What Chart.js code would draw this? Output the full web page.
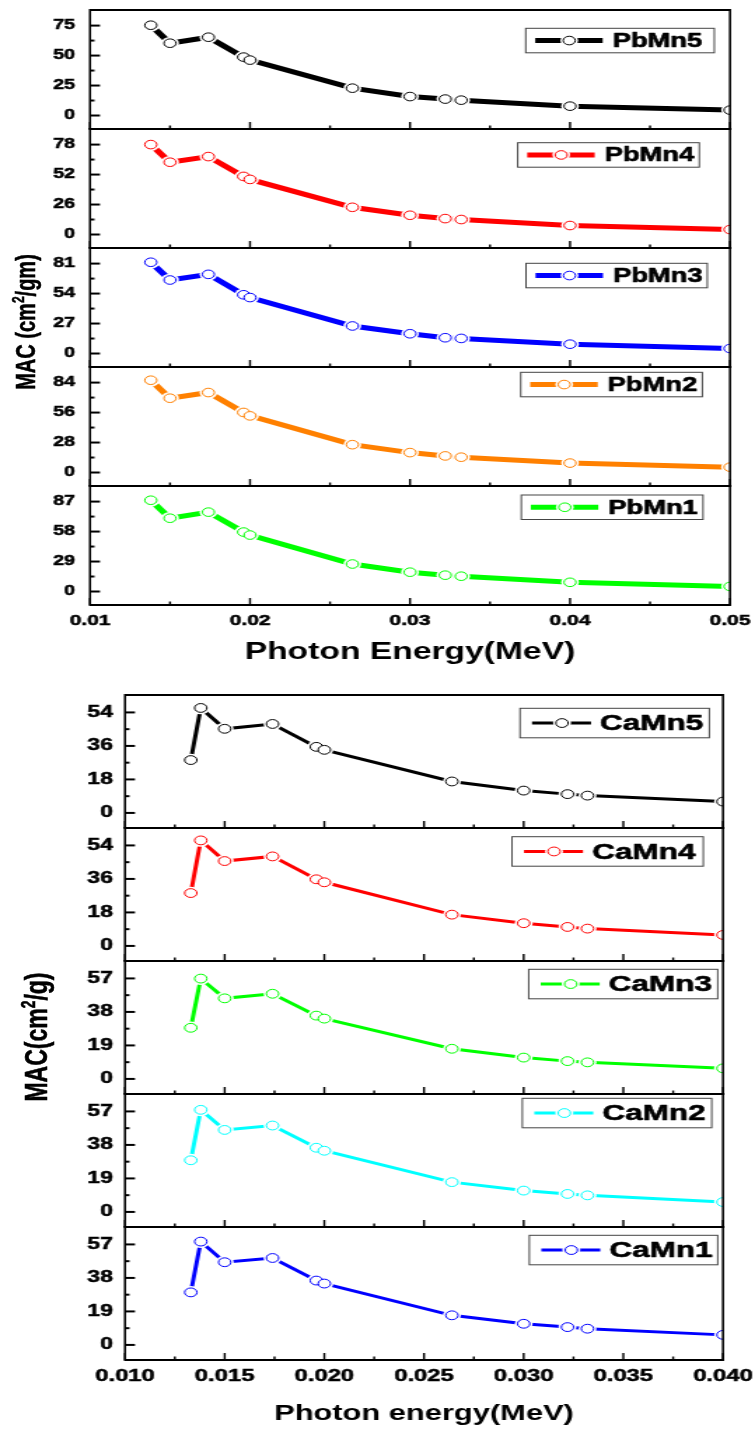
<!DOCTYPE html>
<html>
<head>
<meta charset="utf-8">
<script src="https://cdn.jsdelivr.net/npm/chart.js@4.4.1/dist/chart.umd.min.js"></script>
<style>
  html, body { margin: 0; padding: 0; background: #fff; overflow: hidden; }
  #fig { position: absolute; left: 0; top: 0; width: 539px; height: 1429px; transform-origin: 0 0; }
  .ytitle { position: absolute; white-space: nowrap; font-family: "Liberation Sans", Arial, sans-serif; font-weight: bold; color: #000; -webkit-text-stroke: 0.4px #000; transform: translate(-50%, -50%) rotate(-90deg); }
  .ytitle sup { font-size: 0.6em; }
</style>
</head>
<body>
<div id="fig">
  <div class="ytitle" id="yt1">MAC (cm<sup>2</sup>/gm)</div>
  <div class="ytitle" id="yt2">MAC(cm<sup>2</sup>/g)</div>
</div>
<script>
// ---- dados ----
const energiaPb = [0.0138, 0.015, 0.0174, 0.0196, 0.02, 0.0264, 0.03, 0.0322, 0.0332, 0.04, 0.05];
const pbMn5 = [75.3, 60.3, 65.3, 48.7, 46.2, 22.8, 15.8, 13.7, 12.8, 7.8, 4.5];
const pbMn4 = [78.0, 62.7, 67.6, 50.4, 47.8, 23.6, 16.7, 13.8, 13.0, 7.8, 4.3];
const pbMn3 = [82.2, 66.2, 71.3, 52.9, 50.4, 24.8, 17.8, 14.2, 13.6, 8.4, 4.5];
const pbMn2 = [86.2, 69.4, 74.7, 56.1, 52.9, 26.0, 18.6, 15.5, 14.3, 8.8, 5.0];
const pbMn1 = [88.3, 70.9, 76.8, 57.5, 54.6, 26.6, 18.7, 15.8, 14.8, 8.9, 4.9];
const nomesPb = ['PbMn5', 'PbMn4', 'PbMn3', 'PbMn2', 'PbMn1'];
const coresPb = ['#000000', '#ff0000', '#0000ff', '#ff8000', '#00ff00'];
const ticksYPb = [[0, 25, 50, 75], [0, 26, 52, 78], [0, 27, 54, 81], [0, 28, 56, 84], [0, 29, 58, 87]];
const ticksXPb = [0.01, 0.02, 0.03, 0.04, 0.05];

const energiaCa = [0.0133, 0.0138, 0.015, 0.0174, 0.0196, 0.02, 0.0264, 0.03, 0.0322, 0.0332, 0.04];
const caMn5 = [28.4, 56.4, 45.2, 47.8, 35.5, 33.9, 16.9, 12.0, 10.1, 9.3, 6.1];
const caMn4 = [28.4, 56.7, 45.6, 48.1, 35.8, 34.2, 16.8, 12.2, 10.2, 9.3, 5.9];
const caMn3 = [29.0, 56.9, 45.7, 48.3, 35.9, 34.2, 17.1, 12.1, 10.1, 9.4, 6.0];
const caMn2 = [29.3, 57.9, 46.5, 49.0, 36.4, 34.7, 16.9, 12.1, 10.2, 9.4, 5.6];
const caMn1 = [29.8, 58.6, 46.9, 49.3, 36.5, 34.8, 16.8, 12.0, 10.1, 9.2, 5.7];
const nomesCa = ['CaMn5', 'CaMn4', 'CaMn3', 'CaMn2', 'CaMn1'];
const coresCa = ['#000000', '#ff0000', '#00ff00', '#00ffff', '#0000ff'];
const ticksYCa = [[0, 18, 36, 54], [0, 18, 36, 54], [0, 19, 38, 57], [0, 19, 38, 57], [0, 19, 38, 57]];
const ticksXCa = [0.010, 0.015, 0.020, 0.025, 0.030, 0.035, 0.040];

// ---- layout (a figura original é esticada na horizontal) ----
const W = 539;
const SX = 755 / W;
const PAD = 4;
const FONTE = '"Liberation Sans", Arial, sans-serif';
Chart.defaults.font.family = FONTE;
Chart.defaults.color = '#000';

const fig = document.getElementById('fig');
fig.style.transform = 'scaleX(' + SX + ')';

// posição das caixas de legenda (px reais: x, distância do topo do painel, largura)
const legendaPb = [[525.7, 18.3, 188.6], [517.7, 13.7, 181.6], [526, 15.3, 181.3], [520.7, 5.3, 181.6], [521.3, 9, 181.7]];
const legendaCa = [[520, 13.3, 189.3], [512, 8.7, 191.3], [528.7, 8.3, 189], [522.3, 4.3, 189.4], [529.3, 8.3, 188.4]];

function linha(ctx, x1, y1, x2, y2, w) {
    ctx.lineWidth = w;
    ctx.beginPath();
    ctx.moveTo(x1, y1);
    ctx.lineTo(x2, y2);
    ctx.stroke();
}

function marcador(ctx, x, y, r, cor) {
    ctx.fillStyle = '#fff';
    ctx.beginPath(); ctx.arc(x, y, r + 2, 0, Math.PI * 2); ctx.fill();
    ctx.beginPath(); ctx.arc(x, y, r, 0, Math.PI * 2); ctx.fill();
    ctx.strokeStyle = cor; ctx.lineWidth = 1; ctx.stroke();
}

// plugin que desenha caixa, ticks internos e legenda de cada painel
function decoracao(p) {
    return {
        id: 'decor',
        afterDatasetsDraw(chart) {
            const { ctx, chartArea: a } = chart;
            const xs = chart.scales.x, ys = chart.scales.y;
            ctx.save();
            ctx.strokeStyle = '#000';

            // ticks do eixo y (para dentro)
            const passo = p.yTicks[1] - p.yTicks[0];
            p.yTicks.forEach(v => {
                const py = ys.getPixelForValue(v);
                linha(ctx, a.left, py, a.left + 10 / SX, py, 2);
                const m = v + passo / 2;
                if (m < ys.max - passo * 0.1) {
                    const pm = ys.getPixelForValue(m);
                    linha(ctx, a.left, pm, a.left + 4.5 / SX, pm, 2);
                }
            });

            // ticks do eixo x na base de cada painel
            const px = p.xTicks[1] - p.xTicks[0];
            p.xTicks.forEach((v, i) => {
                const xx = xs.getPixelForValue(v);
                linha(ctx, xx, a.bottom, xx, a.bottom - 7, 2 / SX);
                if (i < p.xTicks.length - 1) {
                    const xm = xs.getPixelForValue(v + px / 2);
                    linha(ctx, xm, a.bottom, xm, a.bottom - 3.5, 2 / SX);
                }
            });

            // moldura
            linha(ctx, a.left, a.top, a.right, a.top, 2);
            linha(ctx, a.left, a.bottom, a.right, a.bottom, 2);
            linha(ctx, a.left, a.top - 1, a.left, a.bottom + 1, 2.2 / SX);
            linha(ctx, a.right, a.top - 1, a.right, a.bottom + 1, 2.2 / SX);

            // legenda
            const [lx, ldy, lw] = p.legenda;
            const L = lx / SX, T = a.top + ldy, LW = lw / SX, LH = p.legH;
            ctx.strokeStyle = '#444';
            ctx.lineWidth = 1;
            ctx.strokeRect(L, T, LW, LH);
            const cy = T + LH / 2;
            ctx.strokeStyle = p.cor;
            ctx.lineCap = 'butt';
            linha(ctx, L + p.legLinha[0] / SX, cy, L + p.legLinha[1] / SX, cy, p.lw);
            marcador(ctx, L + p.legLinha[2] / SX, cy, p.raio, p.cor);
            ctx.fillStyle = '#000';
            ctx.strokeStyle = '#000';
            ctx.lineWidth = 0.6;
            ctx.lineJoin = 'round';
            ctx.font = 'bold ' + p.legFonte + 'px ' + FONTE;
            ctx.textBaseline = 'middle';
            ctx.textAlign = 'left';
            ctx.fillText(p.nome, L + p.legLinha[3] / SX, cy + 1);
            ctx.strokeText(p.nome, L + p.legLinha[3] / SX, cy + 1);
            ctx.restore();
        }
    };
}

function criarPainel(p) {
    const cv = document.createElement('canvas');
    const topo = p.top - PAD;
    const alt = PAD + p.h + (p.eixoH || PAD);
    cv.width = W;
    cv.height = alt;
    cv.style.cssText = 'position:absolute;left:0;top:' + topo + 'px;width:' + W + 'px;height:' + alt + 'px';
    fig.appendChild(cv);

    const pontos = p.x.map((v, i) => ({ x: v, y: p.y[i] }));
    const passo = p.yTicks[1] - p.yTicks[0];

    new Chart(cv, {
        type: 'line',
        data: {
            datasets: [
                { data: pontos, showLine: false, pointRadius: p.raio, pointBorderWidth: 1, pointBorderColor: p.cor, pointBackgroundColor: '#fff', clip: 0, order: 0 },
                { data: pontos, showLine: false, pointRadius: p.raio + 2, pointBorderWidth: 0, pointBorderColor: '#fff', pointBackgroundColor: '#fff', clip: 0, order: 1 },
                { data: pontos, borderColor: p.cor, borderWidth: p.lw, pointRadius: 0, tension: 0, clip: 0, order: 2 }
            ]
        },
        options: {
            responsive: false,
            animation: false,
            events: [],
            layout: { autoPadding: false, padding: { top: PAD, left: 0, right: W - p.right, bottom: p.eixoH ? 0 : PAD } },
            plugins: { legend: { display: false }, tooltip: { enabled: false } },
            scales: {
                x: {
                    type: 'linear',
                    min: p.xmin, max: p.xmax,
                    display: !!p.eixoH,
                    grid: { display: false, drawTicks: false },
                    border: { display: false },
                    afterBuildTicks: s => { s.ticks = p.xTicks.map(v => ({ value: v })); },
                    afterFit: s => { s.height = p.eixoH || 0; s.paddingLeft = 0; s.paddingRight = 0; },
                    ticks: {
                        autoSkip: false, maxRotation: 0, padding: p.xPad,
                        textStrokeColor: '#000', textStrokeWidth: 0.5,
                        font: { size: p.xFonte, weight: 'bold' },
                        callback: v => Number(v).toFixed(p.xDec)
                    },
                    title: { display: !!p.eixoH, text: p.xTitulo, padding: 0, font: { size: p.tFonte, weight: 'bold' } }
                },
                y: {
                    min: -0.45 * passo, max: 3.52 * passo,
                    grid: { display: false, drawTicks: false },
                    border: { display: false },
                    afterBuildTicks: s => { s.ticks = p.yTicks.map(v => ({ value: v })); },
                    afterFit: s => { s.width = p.left; s.paddingTop = 0; s.paddingBottom = 0; },
                    ticks: {
                        autoSkip: false, padding: p.yPad,
                        textStrokeColor: '#000', textStrokeWidth: 0.5,
                        font: { size: p.yFonte, weight: 'bold' }
                    }
                }
            }
        },
        plugins: [decoracao(p)]
    });
}

// grupo de cima (PbMn)
const seriesPb = [pbMn5, pbMn4, pbMn3, pbMn2, pbMn1];
seriesPb.forEach((serie, i) => {
    criarPainel({
        top: 10 + i * 119, h: 119,
        eixoH: i === 4 ? 62 : 0,
        left: 90 / SX, right: 730 / SX,
        x: energiaPb, y: serie, xmin: 0.01, xmax: 0.05,
        xTicks: ticksXPb, yTicks: ticksYPb[i], xDec: 2,
        cor: coresPb[i], nome: nomesPb[i], lw: 5, raio: 4.3,
        legenda: legendaPb[i], legH: 24.5, legFonte: 19.5, legLinha: [9.5, 77, 43.5, 87],
        xFonte: 15, xPad: 7, yFonte: 14, yPad: 15 / SX, tFonte: 24,
        xTitulo: 'Photon Energy(MeV)'
    });
});

// grupo de baixo (CaMn)
const seriesCa = [caMn5, caMn4, caMn3, caMn2, caMn1];
seriesCa.forEach((serie, i) => {
    criarPainel({
        top: 695 + i * 133, h: 133,
        eixoH: i === 4 ? 67 : 0,
        left: 125 / SX, right: 723 / SX,
        x: energiaCa, y: serie, xmin: 0.010, xmax: 0.040,
        xTicks: ticksXCa, yTicks: ticksYCa[i], xDec: 3,
        cor: coresCa[i], nome: nomesCa[i], lw: 3, raio: 4.4,
        legenda: legendaCa[i], legH: 29.5, legFonte: 22.5, legLinha: [12, 71, 42, 80],
        xFonte: 17, xPad: 6, yFonte: 16.5, yPad: 12 / SX, tFonte: 22,
        xTitulo: 'Photon energy(MeV)'
    });
});

// títulos do eixo y (texto rotacionado)
const yt1 = document.getElementById('yt1');
yt1.style.left = (25 / SX) + 'px'; yt1.style.top = '322px'; yt1.style.fontSize = '20px';
const yt2 = document.getElementById('yt2');
yt2.style.left = (37 / SX) + 'px'; yt2.style.top = '1037px'; yt2.style.fontSize = '23px';
</script>
</body>
</html>
